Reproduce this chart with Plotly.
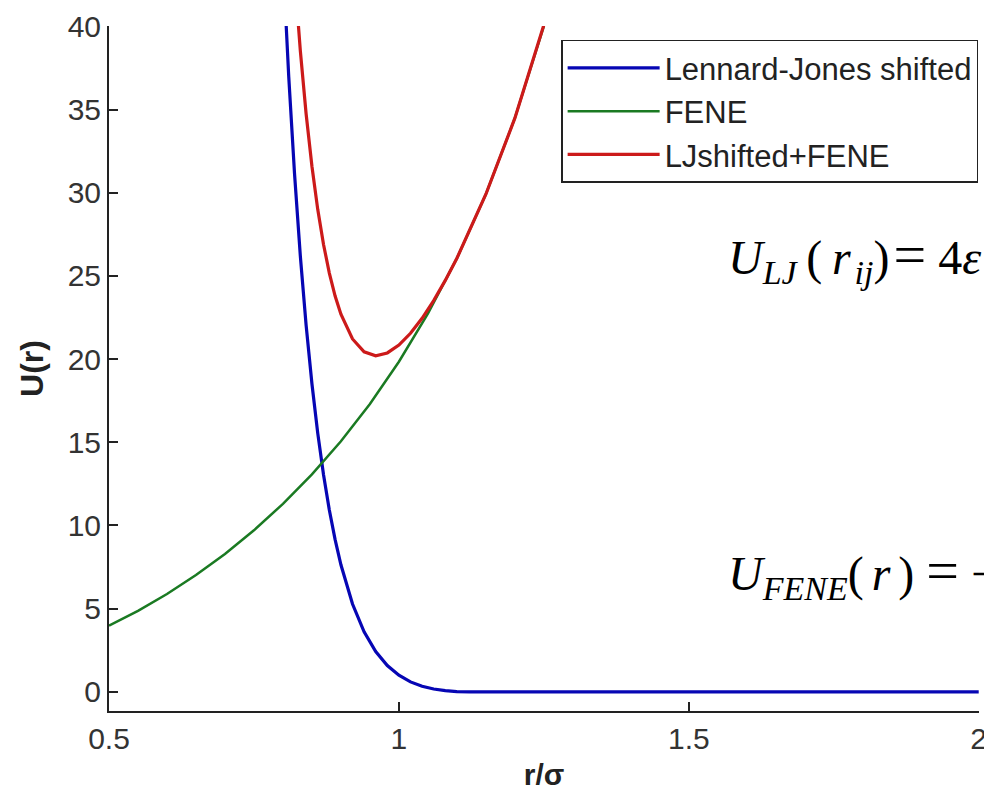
import plotly.graph_objects as go

# Lennard-Jones shifted
r_lj = [0.80, 0.805, 0.81, 0.82, 0.83, 0.84, 0.85, 0.86, 0.87, 0.88, 0.89, 0.90,
        0.92, 0.94, 0.96, 0.98, 1.00, 1.02, 1.04, 1.06, 1.08, 1.10, 1.1225, 1.5, 2.0]
u_lj = [43.95, 40.31, 36.98, 31.13, 26.19, 22.03, 18.52, 15.55, 13.05, 10.93, 9.15, 7.64,
        5.28, 3.61, 2.42, 1.58, 1.00, 0.60, 0.34, 0.17, 0.07, 0.02, 0.0, 0.0, 0.0]

# FENE
r_fene = [0.50, 0.55, 0.60, 0.65, 0.70, 0.75, 0.80, 0.85, 0.90, 0.95, 1.00, 1.05,
          1.10, 1.15, 1.20, 1.25]
u_fene = [3.98, 4.87, 5.88, 7.02, 8.29, 9.71, 11.30, 13.07, 15.06, 17.30, 19.84, 22.73,
          26.05, 29.91, 34.48, 40.02]

# LJshifted + FENE
r_sum = [0.82, 0.83, 0.84, 0.85, 0.86, 0.87, 0.88, 0.89, 0.90, 0.92, 0.94, 0.96, 0.98,
         1.00, 1.02, 1.04, 1.06, 1.08, 1.10, 1.15, 1.20, 1.25, 1.26]
u_sum = [43.11, 38.53, 34.73, 31.59, 29.00, 26.89, 25.17, 23.79, 22.70, 21.21, 20.44, 20.20,
         20.37, 20.84, 21.55, 22.45, 23.52, 24.73, 26.06, 29.91, 34.48, 40.02, 41.2]

x_ticks = [0.5, 1, 1.5, 2]
x_ticklabels = ["0.5", "1", "1.5", "2"]
y_ticks = [0, 5, 10, 15, 20, 25, 30, 35, 40]

fig = go.Figure()
fig.add_trace(go.Scatter(x=r_lj, y=u_lj, mode="lines", name="Lennard-Jones shifted",
                         line=dict(color="#0606b4", width=3.2), legendgroup="a"))
fig.add_trace(go.Scatter(x=r_fene, y=u_fene, mode="lines", name="FENE",
                         line=dict(color="#1a7a22", width=2.5), legendgroup="b"))
fig.add_trace(go.Scatter(x=r_sum, y=u_sum, mode="lines", name="LJshifted+FENE",
                         line=dict(color="#cc1a1a", width=3.2), legendgroup="c"))

sans = "Liberation Sans, Arial, sans-serif"
tickfont = dict(family=sans, size=30, color="#333333")
fig.update_layout(
    width=984, height=791,
    margin=dict(l=109, r=5, t=26, b=80),
    paper_bgcolor="white", plot_bgcolor="white",
    showlegend=True,
    legend=dict(x=0.999, y=0.98, xanchor="right", yanchor="top",
                bordercolor="#222222", borderwidth=1.5, bgcolor="white",
                font=dict(family=sans, size=31, color="#222222"),
                tracegroupgap=0, itemwidth=92),
    xaxis=dict(range=[0.5, 2.0005], tickvals=x_ticks, ticktext=x_ticklabels,
               showline=True, linecolor="#222222", linewidth=2,
               ticks="inside", ticklen=9, tickcolor="#222222", tickwidth=1.5,
               showgrid=False, zeroline=False, tickfont=tickfont,
               ticklabeloverflow="allow", automargin=False,
               title=dict(text="<b>r/σ</b>", font=dict(family=sans, size=30, color="#222222"), standoff=10)),
    yaxis=dict(range=[-1.15, 40.02], tickvals=y_ticks,
               showline=True, linecolor="#222222", linewidth=2,
               ticks="inside", ticklen=9, tickcolor="#222222", tickwidth=1.5,
               showgrid=False, zeroline=False, tickfont=tickfont,
               ticklabeloverflow="allow", automargin=False,
               title=dict(text="<b>U(r)</b>", font=dict(family=sans, size=32, color="#222222"), standoff=14)),
)

eqfont = dict(family="Liberation Serif, Times New Roman, serif", size=48, color="black")
H = "\u200a"
T = "\u2009"
SUB = "<span style='font-size:34px'><i>{}</i></span>"
EQ = "<span style='font-size:58px'>=</span>"
fig.add_annotation(xref="paper", yref="paper", x=0.7097, y=0.663, xanchor="left", yanchor="middle",
                   text=("<i>U</i><sub>" + SUB.format("LJ") + "</sub>" + T + "(" + T + "<i>r</i>" + H +
                         "<sub>" + SUB.format("ij") + "</sub>)" + H + EQ + " 4<i>ε</i>"),
                   showarrow=False, font=eqfont)
fig.add_annotation(xref="paper", yref="paper", x=0.7097, y=0.2017, xanchor="left", yanchor="middle",
                   text=("<i>U</i><sub>" + SUB.format("FENE") + "</sub>(" + H + H + "<i>r</i>" + H + H + ") " +
                         EQ + " −"),
                   showarrow=False, font=eqfont)

fig.write_html("out.html")
